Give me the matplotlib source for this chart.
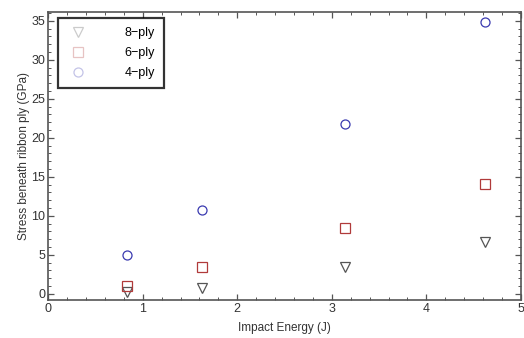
import matplotlib
matplotlib.use("Agg")
import matplotlib.pyplot as plt
from matplotlib.ticker import MultipleLocator

plt.rcParams['font.family'] = ['Liberation Sans', 'DejaVu Sans']

energy = [0.83, 1.63, 3.14, 4.62]
ply8 = [0.2, 0.8, 3.4, 6.6]
ply6 = [0.95, 3.5, 8.5, 14.1]
ply4 = [5.0, 10.8, 21.8, 34.8]
labels = ["8\u2212ply", "6\u2212ply", "4\u2212ply"]

fig = plt.figure(figsize=(5.24, 3.38), dpi=100)
ax = fig.add_axes([0.092, 0.112, 0.902, 0.852])

c8, c6, c4 = "#555555", "#b03a3a", "#3a3ab0"
ms = 6.5
h8, = ax.plot(energy, ply8, linestyle='none', marker='v', ms=ms, mfc='none', mec=c8, mew=0.9)
h6, = ax.plot(energy, ply6, linestyle='none', marker='s', ms=ms, mfc='none', mec=c6, mew=0.9)
h4, = ax.plot(energy, ply4, linestyle='none', marker='o', ms=ms, mfc='none', mec=c4, mew=0.9)

ax.set_xlim(0, 5)
ax.set_ylim(-0.8, 36.1)
ax.xaxis.set_major_locator(MultipleLocator(1))
ax.xaxis.set_minor_locator(MultipleLocator(0.2))
ax.yaxis.set_major_locator(MultipleLocator(5))
ax.yaxis.set_minor_locator(MultipleLocator(1))
ax.tick_params(which='both', direction='in', top=True, right=True, color='#555555',
               labelsize=9, pad=2, labelcolor='#333333')
ax.tick_params(which='major', length=4, width=0.9)
ax.tick_params(which='minor', length=2, width=0.7)
for s in ax.spines.values():
    s.set_color('#555555')
    s.set_linewidth(1.2)

ax.set_xlabel("Impact Energy (J)", fontsize=8.5, color='#333333', labelpad=5)
ax.set_ylabel("Stress beneath ribbon ply (GPa)", fontsize=8.5, color='#333333', labelpad=1)

leg = ax.legend([h8, h6, h4], labels, loc='upper left', fontsize=9, frameon=True,
                fancybox=False, borderpad=0.7, labelspacing=0.65, handletextpad=2.8,
                handlelength=1.8, markerfirst=True, bbox_to_anchor=(0.008, 1.0))
leg.get_frame().set_edgecolor('black')
leg.get_frame().set_linewidth(1.6)
for h in leg.legend_handles:
    h.set_alpha(0.3)

fig.savefig("out.png", dpi=100)
